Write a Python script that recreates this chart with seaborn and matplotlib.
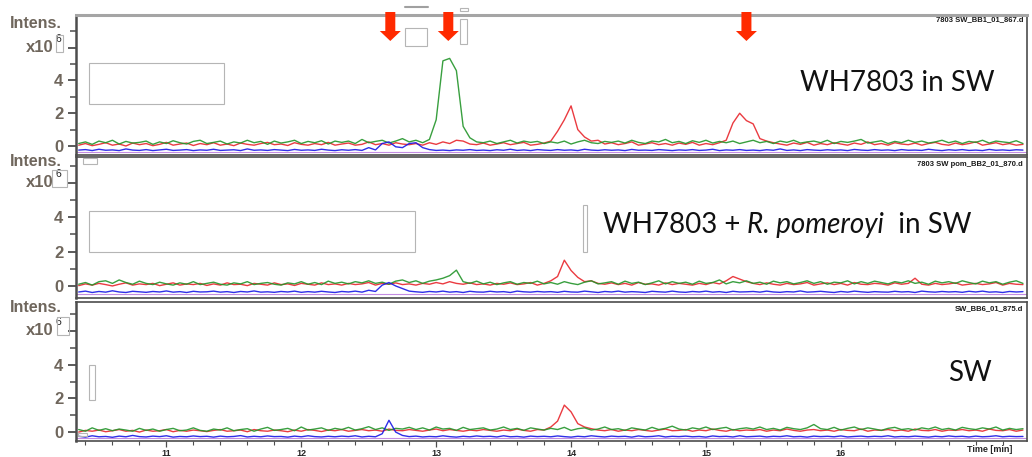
import numpy as np
import pandas as pd
import matplotlib
matplotlib.use("Agg")
import matplotlib.pyplot as plt
import seaborn as sns
from matplotlib.patches import Rectangle, FancyArrow

# ---------------------------------------------------------------- data
# Extracted ion chromatograms, intensity in units of 1e6, sampled every 0.05 min
T_START, T_STEP = 10.35, 0.05

green_bb1 = [0.15,0.25,0.10,0.30,0.20,0.35,0.12,0.28,0.18,0.22,
             0.30,0.10,0.25,0.15,0.32,0.20,0.12,0.28,0.35,0.15,
             0.22,0.30,0.12,0.25,0.18,0.35,0.20,0.28,0.10,0.30,
             0.18,0.25,0.35,0.15,0.28,0.20,0.32,0.12,0.30,0.22,
             0.30,0.15,0.40,0.20,0.28,0.35,0.18,0.30,0.45,0.25,
             0.35,0.20,0.40,1.60,5.20,5.35,4.60,1.20,0.50,0.25,
             0.20,0.30,0.15,0.25,0.35,0.18,0.30,0.22,0.28,0.15,
             0.25,0.18,0.30,0.12,0.25,0.35,0.20,0.15,0.28,0.22,
             0.30,0.18,0.35,0.22,0.15,0.30,0.25,0.40,0.20,0.28,
             0.15,0.32,0.22,0.35,0.18,0.28,0.20,0.30,0.15,0.25,
             0.35,0.20,0.28,0.15,0.30,0.22,0.35,0.18,0.25,0.30,
             0.20,0.35,0.15,0.28,0.22,0.30,0.40,0.18,0.25,0.32,
             0.15,0.28,0.20,0.35,0.22,0.30,0.18,0.25,0.35,0.20,
             0.30,0.15,0.28,0.22,0.35,0.18,0.30,0.25,0.20,0.32,0.15]
red_bb1 = [0.05,0.15,0.02,0.10,0.20,0.05,0.12,0.00,0.18,0.08,
           0.15,0.02,0.10,0.22,0.05,0.12,0.18,0.03,0.15,0.08,
           0.20,0.05,0.12,0.02,0.18,0.10,0.05,0.15,0.22,0.08,
           0.12,0.03,0.20,0.10,0.05,0.15,0.08,0.22,0.05,0.12,
           0.18,0.05,0.10,0.25,0.08,0.15,0.05,0.20,0.12,0.08,
           0.15,0.05,0.20,0.10,0.25,0.15,0.35,0.30,0.12,0.08,
           0.18,0.05,0.12,0.20,0.08,0.15,0.22,0.05,0.10,0.18,
           0.30,0.90,1.60,2.45,1.00,0.55,0.30,0.35,0.12,0.20,
           0.08,0.15,0.25,0.05,0.12,0.20,0.08,0.15,0.05,0.18,
           0.10,0.22,0.05,0.15,0.08,0.20,0.35,1.40,2.00,1.55,
           1.35,0.45,0.30,0.20,0.12,0.05,0.18,0.10,0.22,0.05,
           0.15,0.08,0.20,0.12,0.05,0.18,0.10,0.25,0.08,0.15,
           0.05,0.20,0.12,0.08,0.18,0.05,0.15,0.22,0.10,0.05,
           0.18,0.08,0.15,0.25,0.05,0.12,0.20,0.08,0.15,0.05,0.10]
blue_bb1 = [-0.25,-0.22,-0.28,-0.20,-0.26,-0.24,-0.28,-0.18,-0.25,-0.27,
            -0.22,-0.28,-0.24,-0.20,-0.27,-0.25,-0.22,-0.28,-0.24,-0.26,
            -0.20,-0.27,-0.25,-0.23,-0.28,-0.18,-0.26,-0.24,-0.27,-0.22,
            -0.25,-0.28,-0.21,-0.26,-0.24,-0.27,-0.20,-0.25,-0.28,-0.23,
            -0.26,-0.22,-0.27,-0.10,-0.24,0.15,0.25,-0.05,-0.10,0.15,
            0.20,-0.10,-0.22,-0.27,-0.25,-0.28,-0.24,-0.26,-0.22,-0.27,
            -0.25,-0.28,-0.23,-0.26,-0.20,-0.27,-0.24,-0.28,-0.22,-0.25,
            -0.27,-0.22,-0.26,-0.24,-0.28,-0.20,-0.25,-0.27,-0.23,-0.26,
            -0.24,-0.28,-0.21,-0.26,-0.25,-0.27,-0.22,-0.25,-0.28,-0.24,
            -0.26,-0.22,-0.27,-0.25,-0.20,-0.28,-0.24,-0.26,-0.22,-0.27,
            -0.25,-0.28,-0.23,-0.26,-0.18,-0.27,-0.24,-0.28,-0.22,-0.25,
            -0.27,-0.23,-0.26,-0.24,-0.28,-0.21,-0.25,-0.27,-0.22,-0.26,
            -0.24,-0.28,-0.22,-0.26,-0.25,-0.27,-0.20,-0.25,-0.28,-0.23,
            -0.26,-0.22,-0.27,-0.25,-0.28,-0.21,-0.26,-0.24,-0.27,-0.23,-0.25]

green_bb2 = [0.10,0.20,0.05,0.25,0.30,0.15,0.35,0.20,0.10,0.28,
             0.15,0.08,0.22,0.12,0.05,0.18,0.10,0.25,0.08,0.15,
             0.22,0.10,0.05,0.18,0.12,0.25,0.08,0.15,0.20,0.10,
             0.05,0.18,0.12,0.25,0.10,0.20,0.08,0.28,0.15,0.22,
             0.12,0.25,0.18,0.30,0.15,0.22,0.10,0.28,0.35,0.20,
             0.30,0.15,0.28,0.35,0.45,0.60,0.92,0.25,0.15,0.28,
             0.12,0.22,0.08,0.18,0.25,0.10,0.20,0.15,0.28,0.12,
             0.20,0.10,0.25,0.15,0.08,0.22,0.30,0.12,0.18,0.25,
             0.10,0.28,0.15,0.22,0.08,0.18,0.30,0.12,0.25,0.15,
             0.22,0.10,0.28,0.15,0.20,0.35,0.12,0.25,0.18,0.30,
             0.15,0.22,0.10,0.28,0.18,0.25,0.12,0.20,0.30,0.15,
             0.25,0.10,0.22,0.18,0.30,0.12,0.25,0.15,0.28,0.20,
             0.12,0.25,0.18,0.30,0.15,0.22,0.10,0.28,0.18,0.25,
             0.15,0.30,0.20,0.12,0.28,0.18,0.25,0.10,0.22,0.30,0.15]
red_bb2 = [0.02,0.12,0.05,0.15,0.08,0.00,0.10,0.18,0.05,0.12,
           0.08,0.15,0.02,0.10,0.18,0.05,0.12,0.08,0.15,0.03,
           0.12,0.05,0.18,0.08,0.10,0.02,0.15,0.10,0.05,0.18,
           0.08,0.12,0.03,0.15,0.10,0.05,0.18,0.08,0.12,0.05,
           0.15,0.08,0.12,0.20,0.05,0.15,0.10,0.18,0.08,0.12,
           0.05,0.15,0.10,0.20,0.12,0.25,0.15,0.10,0.18,0.08,
           0.12,0.05,0.15,0.10,0.18,0.08,0.12,0.20,0.05,0.15,
           0.30,0.55,1.50,0.90,0.50,0.25,0.30,0.15,0.10,0.18,
           0.08,0.15,0.05,0.20,0.10,0.12,0.05,0.18,0.08,0.15,
           0.10,0.05,0.15,0.08,0.20,0.12,0.30,0.55,0.40,0.25,
           0.15,0.08,0.18,0.10,0.05,0.15,0.08,0.12,0.20,0.05,
           0.12,0.18,0.08,0.15,0.05,0.20,0.10,0.08,0.15,0.12,
           0.05,0.18,0.10,0.15,0.45,0.10,0.05,0.15,0.08,0.12,
           0.18,0.05,0.10,0.15,0.08,0.12,0.20,0.05,0.15,0.10,0.08]
blue_bb2 = [-0.35,-0.30,-0.38,-0.32,-0.36,-0.28,-0.35,-0.38,-0.31,-0.34,
            -0.37,-0.32,-0.35,-0.29,-0.36,-0.33,-0.38,-0.31,-0.35,-0.34,
            -0.30,-0.36,-0.33,-0.38,-0.32,-0.35,-0.29,-0.36,-0.34,-0.37,
            -0.32,-0.35,-0.30,-0.37,-0.33,-0.36,-0.31,-0.35,-0.38,-0.32,
            -0.35,-0.30,-0.36,-0.25,-0.32,0.05,0.20,0.00,-0.15,-0.30,
            -0.34,-0.37,-0.32,-0.35,-0.30,-0.36,-0.33,-0.38,-0.31,-0.35,
            -0.36,-0.31,-0.35,-0.33,-0.38,-0.30,-0.34,-0.36,-0.32,-0.35,
            -0.33,-0.37,-0.31,-0.35,-0.36,-0.30,-0.34,-0.38,-0.32,-0.35,
            -0.30,-0.36,-0.33,-0.35,-0.38,-0.31,-0.34,-0.36,-0.30,-0.35,
            -0.37,-0.32,-0.35,-0.30,-0.36,-0.33,-0.38,-0.31,-0.35,-0.34,
            -0.32,-0.36,-0.30,-0.35,-0.37,-0.33,-0.35,-0.29,-0.36,-0.34,
            -0.31,-0.35,-0.38,-0.32,-0.36,-0.30,-0.34,-0.37,-0.33,-0.35,
            -0.36,-0.31,-0.35,-0.33,-0.38,-0.30,-0.34,-0.36,-0.32,-0.35,
            -0.33,-0.37,-0.31,-0.35,-0.30,-0.36,-0.34,-0.38,-0.32,-0.35,-0.33]

green_bb6 = [0.15,0.05,0.25,0.10,0.20,0.08,0.18,0.12,0.05,0.22,
             0.10,0.18,0.05,0.15,0.22,0.08,0.12,0.25,0.10,0.05,
             0.18,0.12,0.25,0.08,0.15,0.20,0.05,0.18,0.28,0.10,
             0.15,0.22,0.08,0.30,0.12,0.18,0.25,0.10,0.22,0.15,
             0.28,0.12,0.20,0.32,0.15,0.25,0.10,0.22,0.18,0.28,
             0.15,0.25,0.12,0.30,0.18,0.22,0.10,0.28,0.15,0.20,
             0.25,0.12,0.18,0.30,0.15,0.22,0.10,0.25,0.18,0.12,
             0.22,0.15,0.28,0.10,0.20,0.25,0.12,0.18,0.30,0.15,
             0.20,0.10,0.25,0.18,0.12,0.28,0.15,0.22,0.35,0.18,
             0.12,0.25,0.18,0.30,0.15,0.22,0.28,0.12,0.20,0.25,
             0.18,0.30,0.15,0.22,0.12,0.28,0.20,0.15,0.25,0.45,
             0.20,0.15,0.28,0.12,0.22,0.30,0.15,0.25,0.18,0.10,
             0.22,0.28,0.15,0.20,0.12,0.25,0.18,0.30,0.15,0.22,
             0.12,0.28,0.20,0.15,0.25,0.18,0.30,0.12,0.22,0.15,0.20]
red_bb6 = [0.00,0.10,0.05,0.12,0.02,0.08,0.15,0.05,0.10,0.00,
           0.12,0.05,0.08,0.15,0.02,0.10,0.05,0.12,0.08,0.03,
           0.10,0.15,0.05,0.08,0.12,0.02,0.15,0.08,0.05,0.12,
           0.08,0.02,0.12,0.05,0.15,0.10,0.03,0.12,0.08,0.15,
           0.05,0.10,0.15,0.08,0.12,0.05,0.18,0.10,0.08,0.15,
           0.10,0.05,0.12,0.18,0.08,0.15,0.10,0.05,0.12,0.08,
           0.15,0.10,0.05,0.12,0.08,0.18,0.10,0.05,0.15,0.12,
           0.30,0.65,1.60,1.20,0.50,0.30,0.20,0.12,0.08,0.15,
           0.05,0.12,0.08,0.15,0.10,0.05,0.12,0.18,0.08,0.10,
           0.15,0.05,0.12,0.08,0.18,0.10,0.05,0.15,0.08,0.12,
           0.10,0.15,0.05,0.12,0.08,0.18,0.10,0.05,0.12,0.15,
           0.08,0.12,0.05,0.15,0.10,0.08,0.18,0.05,0.12,0.10,
           0.15,0.08,0.12,0.05,0.18,0.10,0.08,0.15,0.05,0.12,
           0.10,0.15,0.08,0.12,0.05,0.18,0.10,0.08,0.15,0.05,0.12]
blue_bb6 = [-0.25,-0.30,-0.22,-0.28,-0.26,-0.31,-0.24,-0.28,-0.20,-0.27,
            -0.29,-0.24,-0.27,-0.22,-0.30,-0.26,-0.28,-0.23,-0.27,-0.25,
            -0.30,-0.24,-0.28,-0.26,-0.21,-0.29,-0.25,-0.28,-0.23,-0.27,
            -0.26,-0.30,-0.24,-0.28,-0.22,-0.27,-0.29,-0.25,-0.28,-0.24,
            -0.27,-0.22,-0.29,-0.25,-0.28,-0.10,0.70,0.00,-0.20,-0.27,
            -0.24,-0.29,-0.26,-0.28,-0.22,-0.27,-0.30,-0.25,-0.28,-0.23,
            -0.27,-0.25,-0.29,-0.22,-0.28,-0.26,-0.30,-0.24,-0.27,-0.25,
            -0.28,-0.23,-0.27,-0.30,-0.25,-0.28,-0.22,-0.26,-0.29,-0.24,
            -0.27,-0.25,-0.30,-0.23,-0.28,-0.26,-0.22,-0.29,-0.25,-0.27,
            -0.24,-0.28,-0.26,-0.30,-0.23,-0.27,-0.25,-0.29,-0.22,-0.28,
            -0.26,-0.24,-0.29,-0.25,-0.27,-0.22,-0.28,-0.26,-0.30,-0.24,
            -0.27,-0.25,-0.28,-0.23,-0.29,-0.26,-0.24,-0.28,-0.25,-0.27,
            -0.22,-0.29,-0.26,-0.28,-0.24,-0.27,-0.30,-0.25,-0.28,-0.23,
            -0.27,-0.25,-0.29,-0.24,-0.28,-0.26,-0.22,-0.28,-0.25,-0.27,-0.26]

file_names = ["7803 SW_BB1_01_867.d", "7803 SW pom_BB2_01_870.d", "SW_BB6_01_875.d"]
sample_labels = [("WH7803 in SW", None, None),
                 ("WH7803 + ", "R. pomeroyi", "  in SW"),
                 ("SW", None, None)]
x_ticks = [11, 12, 13, 14, 15, 16]
y_ticks = [0, 2, 4]
arrow_times = [12.66, 13.09, 15.30]

traces = [(red_bb1, green_bb1, blue_bb1),
          (red_bb2, green_bb2, blue_bb2),
          (red_bb6, green_bb6, blue_bb6)]

# ---------------------------------------------------------------- style
sns.set_theme(style="white")
plt.rcParams["font.family"] = ["Liberation Sans", "DejaVu Sans"]

W, H = 1032, 457
fig = plt.figure(figsize=(W / 100, H / 100), dpi=100)

palette = {"red": "#e8262c", "green": "#23952a", "blue": "#1818e6"}
axis_grey = "#4d4d4d"
label_grey = "#6f665c"

# panel boxes in pixels: (top, bottom) and y-limits
panel_px = [(15, 155), (157, 298), (302, 441)]
ylims = [(-0.55, 8.0), (-0.70, 7.5), (-0.53, 7.72)]
baseline_lvls = [-0.36, -0.46, -0.36]
header_offsets = [-8, -5, -6]
x_left, x_right = 76, 1027
xlim = (10.33, 17.38)

n = len(green_bb1)
time_min = np.round(T_START + T_STEP * np.arange(n), 3)

axes = []
for k, ((top, bot), (r, g, b)) in enumerate(zip(panel_px, traces)):
    ax = fig.add_axes([x_left / W, 1 - bot / H, (x_right - x_left) / W, (bot - top) / H])
    axes.append(ax)
    df = pd.DataFrame({
        "time": np.concatenate([time_min] * 3),
        "intensity": np.array(r + g + b, dtype=float),
        "trace": ["red"] * n + ["green"] * n + ["blue"] * n,
    })
    ax.axhline(baseline_lvls[k], color="#9b3fd0", lw=0.8, alpha=0.6, zorder=1)
    sns.lineplot(data=df, x="time", y="intensity", hue="trace", palette=palette,
                 hue_order=["red", "green", "blue"], estimator=None, sort=False,
                 legend=False, lw=1.0, alpha=0.9, ax=ax)
    ax.set_xlim(*xlim)
    ax.set_ylim(*ylims[k])
    ax.set_xlabel("")
    ax.set_ylabel("")

    # y axis
    ax.set_yticks(y_ticks + [6])
    ax.set_yticks([1, 3, 5, 7], minor=True)
    ax.set_yticklabels([str(v) for v in y_ticks] + [""], fontsize=12,
                       fontweight="bold", color=label_grey)
    ax.tick_params(axis="y", which="major", left=True, length=6, width=1.3,
                   color=axis_grey, pad=3)
    ax.tick_params(axis="y", which="minor", left=True, length=4, width=1.1,
                   color=axis_grey)

    # x axis
    ax.set_xticks(x_ticks)
    ax.set_xticks(np.round(np.arange(10.4, 17.3, 0.2), 1), minor=True)
    if k < 2:
        ax.tick_params(axis="x", which="both", bottom=False, labelbottom=False)
    else:
        ax.set_xticklabels([str(v) for v in x_ticks], fontsize=6.5, fontweight="bold")
        ax.tick_params(axis="x", which="major", bottom=True, length=4, width=0.9,
                       color=axis_grey, pad=2)
        ax.tick_params(axis="x", which="minor", bottom=True, length=3, width=0.8,
                       color=axis_grey)

    for side, sp in ax.spines.items():
        sp.set_visible(True)
        sp.set_color(axis_grey)
        sp.set_linewidth(1.2)
    ax.spines["left"].set_linewidth(1.8)
    if k == 0:
        ax.spines["top"].set_color("#a5a5a5")
        ax.spines["top"].set_linewidth(2.2)

    # intensity header and scale
    ax.annotate("Intens.", xy=(0, 1), xycoords="axes fraction",
                xytext=(-14, header_offsets[k]), textcoords="offset pixels",
                ha="right", va="center", fontsize=11.5, fontweight="bold",
                color=label_grey, annotation_clip=False)
    ax.annotate("x10", xy=(0, 6), xycoords=("axes fraction", "data"), xytext=(-22, 0),
                textcoords="offset pixels", ha="right", va="center", fontsize=12,
                fontweight="bold", color=label_grey, annotation_clip=False)
    ax.annotate("6", xy=(0, 6), xycoords=("axes fraction", "data"), xytext=(-20, 9),
                textcoords="offset pixels", ha="left", va="center", fontsize=7.5,
                color="#222222", annotation_clip=False)

    # data file name
    ax.annotate(file_names[k], xy=(1, 1), xycoords="axes fraction",
                xytext=(-4, -5 if k == 0 else -7), textcoords="offset pixels",
                ha="right", va="center", fontsize=5.5, fontweight="bold", color="#1a1a1a")

# sample descriptions
label_pos = [(0.761, 0.514), (0.554, 0.518), (0.917, 0.489)]
for ax, (plain, ital, tail), (lx, ly) in zip(axes, sample_labels, label_pos):
    t = ax.text(lx, ly, plain, transform=ax.transAxes, ha="left", va="center",
                fontsize=20, family="Lato", color="#111111")
    if ital is not None:
        t2 = ax.annotate(ital, xy=(1, 0), xycoords=t, ha="left", va="bottom",
                         fontsize=20, family="Lato", style="italic", color="#111111")
        ax.annotate(tail, xy=(1, 0), xycoords=t2, ha="left", va="bottom",
                    fontsize=20, family="Lato", color="#111111")

fig.text(990 / W, 1 - 450 / H, "Time [min]", ha="center", va="center",
         fontsize=6.5, fontweight="bold")

# red arrows marking the peaks of interest
ax0 = axes[0]
for t in arrow_times:
    xd = ax0.transData.transform((t, 0))[0] / fig.dpi
    arr = FancyArrow(xd, (H - 12) / 100, 0, -0.29, width=0.10, head_width=0.21,
                     head_length=0.10, length_includes_head=True,
                     transform=fig.dpi_scale_trans, color="#ff2a00", lw=0, zorder=20)
    fig.add_artist(arr)

# blank placeholder boxes on the slide
boxes = [(89, 63, 224, 104), (89, 211, 415, 252), (89, 365, 95, 400),
         (405, 28, 427, 46), (460, 19, 467, 44), (460, 8, 468, 11),
         (56, 35, 63, 52), (52, 170, 67, 187), (57, 317, 69, 335),
         (83, 158, 97, 164), (78, 433, 87, 436), (583, 205, 587, 252)]
for x0, y0, x1, y1 in boxes:
    fig.add_artist(Rectangle((x0 / W, 1 - y1 / H), (x1 - x0) / W, (y1 - y0) / H,
                             transform=fig.transFigure, facecolor="none",
                             edgecolor="#b5b5b5", lw=0.8, zorder=15))
fig.add_artist(plt.Line2D([405 / W, 428 / W], [1 - 7 / H, 1 - 7 / H],
                          transform=fig.transFigure, color="#a0a0a0", lw=1.5))

fig.savefig("out.png", dpi=100)
